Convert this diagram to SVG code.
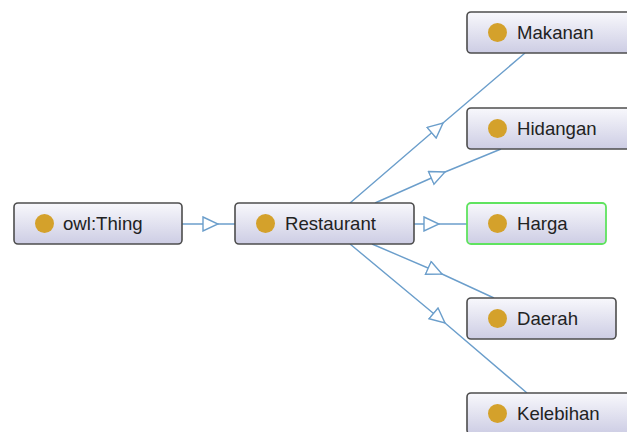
<svg xmlns="http://www.w3.org/2000/svg" width="627" height="432" viewBox="0 0 627 432">
<style>
.box{fill:url(#g);stroke:#4d4d4d;stroke-width:1.6}
.sel{fill:url(#g);stroke:#5fe35f;stroke-width:1.8}
.dot{fill:#d4a12b}
.lbl{font-family:"Liberation Sans",Arial,sans-serif;font-size:18.6px;fill:#222}
.edge{fill:none;stroke:#6b9ecb;stroke-width:1.4;marker-mid:url(#tri)}
</style>
<defs>
<linearGradient id="g" x1="0" y1="0" x2="0" y2="1">
<stop offset="0" stop-color="#f8f8fc"/>
<stop offset="1" stop-color="#cdcde4"/>
</linearGradient>
<marker id="tri" markerUnits="userSpaceOnUse" viewBox="-1 -1 17 16" markerWidth="17" markerHeight="16" refX="15" refY="7" orient="auto">
<path d="M0,0 L15,7 L0,14 Z" fill="#fff" stroke="#6b9ecb" stroke-width="1.4"/>
</marker>
</defs>
<rect width="627" height="432" fill="#fff"/>
<g id="connectors">
<path class="edge" d="M182,224 L218,224 L235,224"/>
<path class="edge" d="M414,224 L439,224 L467,224"/>
<path class="edge" d="M350,203 L443,123 L525,53"/>
<path class="edge" d="M375,203 L445,172 L501,149"/>
<path class="edge" d="M372,244 L442,274 L494,298"/>
<path class="edge" d="M350,244 L445,323 L527,393"/>
</g>
<g id="owlThing">
<rect class="box" x="14" y="203" width="168" height="41" rx="4"/>
<circle class="dot" cx="44.5" cy="223.5" r="9.5"/>
<text class="lbl" x="63" y="230">owl:Thing</text>
</g>
<g id="Restaurant">
<rect class="box" x="235" y="203" width="179" height="41" rx="4"/>
<circle class="dot" cx="265.5" cy="223.5" r="9.5"/>
<text class="lbl" x="285" y="230">Restaurant</text>
</g>
<g id="Makanan">
<rect class="box" x="467" y="12" width="168" height="41" rx="4"/>
<circle class="dot" cx="497.5" cy="32.5" r="9.5"/>
<text class="lbl" x="517" y="39">Makanan</text>
</g>
<g id="Hidangan">
<rect class="box" x="467" y="108" width="168" height="41" rx="4"/>
<circle class="dot" cx="497.5" cy="128.5" r="9.5"/>
<text class="lbl" x="517" y="135">Hidangan</text>
</g>
<g id="Harga">
<rect class="sel" x="467" y="203" width="139" height="41" rx="4"/>
<circle class="dot" cx="497.5" cy="223.5" r="9.5"/>
<text class="lbl" x="517" y="230">Harga</text>
</g>
<g id="Daerah">
<rect class="box" x="467" y="298" width="149" height="41" rx="4"/>
<circle class="dot" cx="497.5" cy="318.5" r="9.5"/>
<text class="lbl" x="517" y="325">Daerah</text>
</g>
<g id="Kelebihan">
<rect class="box" x="467" y="393" width="168" height="41" rx="4"/>
<circle class="dot" cx="497.5" cy="413.5" r="9.5"/>
<text class="lbl" x="517" y="420">Kelebihan</text>
</g>
</svg>
